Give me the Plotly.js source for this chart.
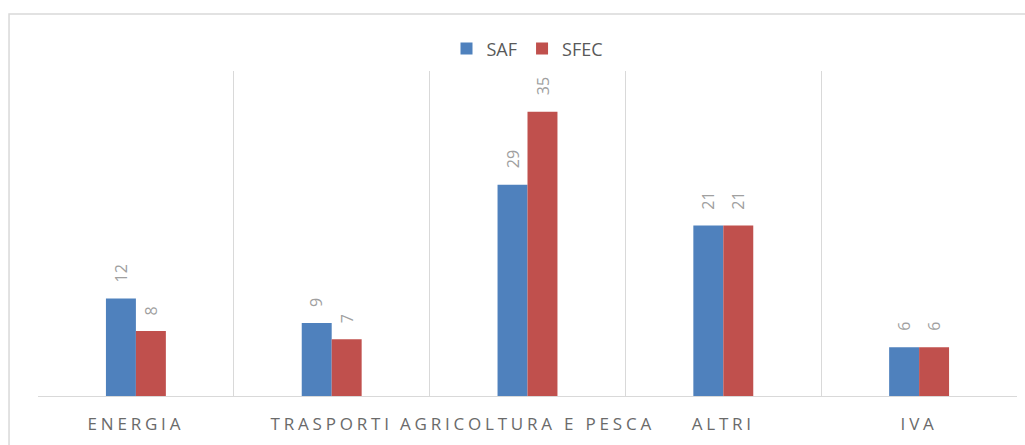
<!DOCTYPE html>
<html>
<head>
<meta charset="utf-8">
<script src="https://cdn.plot.ly/plotly-3.0.1.min.js"></script>
<style>
  html, body { margin: 0; padding: 0; background: #ffffff; }
  #chart { width: 1025px; height: 445px; }
  .xtick text { letter-spacing: 3.8px; }
</style>
</head>
<body>
<div id="chart"></div>
<script>
// Data
const categories = ["ENERGIA", "TRASPORTI", "AGRICOLTURA E PESCA", "ALTRI", "IVA"];
const safHeights = [12, 9, 26, 21, 6];     // bar heights as drawn
const safLabels  = [12, 9, 29, 21, 6];     // data labels as printed
const sfecHeights = [8, 7, 35, 21, 6];
const sfecLabels  = [8, 7, 35, 21, 6];

const BLUE = "#4F81BD";
const RED = "#C0504D";
const GRID = "#d9d9d9";

const traces = [
  { type: "bar", name: "SAF", x: categories, y: safHeights,
    marker: { color: BLUE }, hoverinfo: "x+y" },
  { type: "bar", name: "SFEC", x: categories, y: sfecHeights,
    marker: { color: RED }, hoverinfo: "x+y" }
];

const labelFont = { family: "Open Sans, sans-serif", size: 16, color: "#a0a0a0" };
const annotations = [];
categories.forEach((c, i) => {
  annotations.push({ x: c, y: safHeights[i], xref: "x", yref: "y", text: String(safLabels[i]),
    showarrow: false, textangle: -90, xshift: -15, yanchor: "bottom", yshift: 14, font: labelFont });
  annotations.push({ x: c, y: sfecHeights[i], xref: "x", yref: "y", text: String(sfecLabels[i]),
    showarrow: false, textangle: -90, xshift: 15, yanchor: "bottom", yshift: 14, font: labelFont });
});

const layout = {
  width: 1025, height: 445,
  margin: { l: 38, r: 8, t: 71, b: 49 },
  paper_bgcolor: "#ffffff", plot_bgcolor: "#ffffff",
  barmode: "group", bargap: 0.694, bargroupgap: 0,
  showlegend: true,
  legend: { orientation: "h", x: 0.5, xanchor: "center", y: 1.068, yanchor: "middle",
    font: { family: "Open Sans, sans-serif", size: 18, color: "#595959" }, itemwidth: 30,
    tracegroupgap: 0 },
  xaxis: {
    type: "category", range: [-0.5, 4.5], tickson: "boundaries",
    showgrid: true, gridcolor: GRID, gridwidth: 1,
    showline: true, linecolor: GRID, linewidth: 1,
    ticks: "", ticklabelstandoff: 13,
    tickfont: { family: "Open Sans, sans-serif", size: 17, color: "#6a6a6a" },
    fixedrange: true
  },
  yaxis: {
    range: [0, 40], showgrid: false, zeroline: false, showticklabels: false, showline: false,
    fixedrange: true
  },
  annotations: annotations,
  shapes: [
    { type: "rect", xref: "paper", yref: "paper", x0: -0.0296, x1: 1.02, y0: -0.2, y1: 1.1754,
      line: { color: GRID, width: 1.5 }, fillcolor: "rgba(0,0,0,0)", layer: "below" }
  ]
};

Plotly.newPlot("chart", traces, layout, { displayModeBar: false, staticPlot: true });
</script>
</body>
</html>
